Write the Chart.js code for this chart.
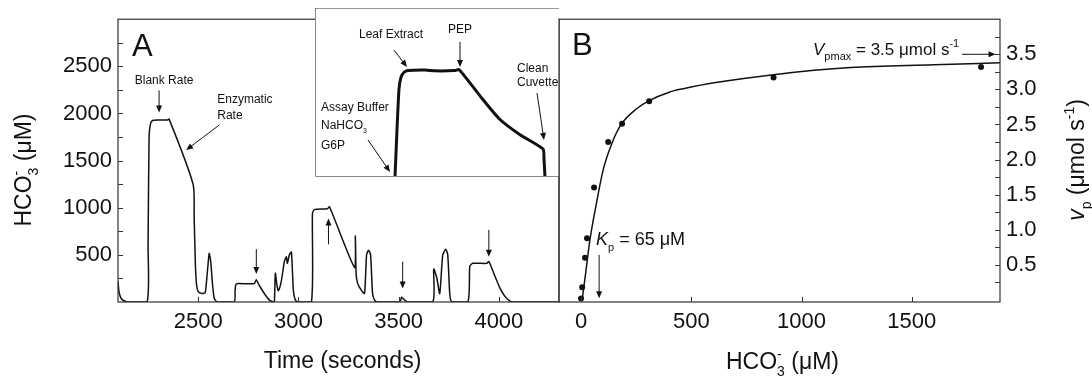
<!DOCTYPE html>
<html>
<head>
<meta charset="utf-8">
<script src="https://cdn.jsdelivr.net/npm/chart.js@4"></script>
<style>
  html, body { margin: 0; padding: 0; background: #fff; }
  #wrap { position: relative; width: 1092px; height: 381px; overflow: hidden; background: #fff; }
  #wrap canvas { position: absolute; top: 0; }
  #wrap #cA { left: 0; }
  #wrap #cIn { left: 315px; top: 8px; }
  #wrap #cB { left: 549px; }
</style>
</head>
<body>
<div id="wrap">
  <canvas id="cA" width="570" height="381"></canvas>
  <canvas id="cIn" width="244" height="169"></canvas>
  <canvas id="cB" width="543" height="381"></canvas>
</div>
<script>
// --- panel A: HCO3- concentration trace (uM) vs time (s)
const traceTime = [2100, 2105, 2115, 2135, 2155, 2245, 2250, 2255, 2262, 2272, 2300, 2345, 2355, 2475, 2480, 2486, 2492, 2500, 2520, 2535, 2545, 2555, 2563, 2570, 2580, 2595,
  2680, 2684, 2688, 2700, 2780, 2790, 2805, 2830, 2855, 2875, 2880, 2885, 2892, 2900, 2915, 2930, 2940, 2945, 2955, 2965, 2975, 2985, 3000,
  3065, 3070, 3080, 3145, 3155, 3280, 3284, 3288, 3295, 3315, 3330, 3340, 3350, 3360, 3370, 3380, 3395,
  3505, 3515, 3530, 3545, 3670, 3675, 3690, 3705, 3720, 3735, 3745, 3755, 3765,
  3845, 3855, 3870, 3940, 3950, 3980, 4005, 4030, 4055, 4070, 4300];
const traceConc = [220, 110, 40, 8, 0, 0, 600, 1750, 1890, 1925, 1930, 1930, 1940, 1245, 900, 400, 180, 110, 90, 100, 300, 515, 420, 225, 40, 0,
  0, 120, 185, 195, 195, 235, 175, 90, 20, 0, 0, 305, 190, 120, 225, 430, 480, 410, 500, 530, 120, 20, 0,
  0, 940, 980, 990, 1010, 367, 700, 300, 200, 120, 90, 500, 550, 500, 90, 20, 0,
  0, 50, 20, 0, 0, 350, 260, 90, 500, 560, 500, 90, 0,
  0, 380, 410, 410, 430, 275, 150, 60, 10, 0, 0];
const timeTicks = [2500, 3000, 3500, 4000];
const concTicks = [500, 1000, 1500, 2000, 2500];
const concMinor = [250, 750, 1250, 1750, 2250, 2750];

// --- inset: one assay run (relative units)
const insetTime = [80, 82, 84, 86, 89, 93, 110, 120, 140, 144, 165, 185, 205, 228, 229, 230];
const insetSignal = [0, 28, 52, 59, 62, 63, 63.3, 62.8, 63, 63.6, 48, 34, 25, 16.5, 10.6, 0];

// --- panel B: measured rates and fitted curve
const hco3Obs = [0, 5, 18, 27, 59, 123, 186, 309, 873, 1814];
const rateObs = [0.02, 0.18, 0.60, 0.88, 1.60, 2.25, 2.51, 2.83, 3.17, 3.32];
const hco3Fit = [5, 20, 40, 70, 100, 141, 182, 250, 309, 400, 464, 618, 873, 1223, 1600, 1900];
const rateFit = [0, 0.36, 0.85, 1.38, 1.85, 2.24, 2.50, 2.72, 2.84, 2.96, 3.01, 3.10, 3.21, 3.31, 3.35, 3.38];
const hco3Ticks = [0, 500, 1000, 1500];
const rateTicks = [0.5, 1.0, 1.5, 2.0, 2.5, 3.0, 3.5];
const rateMinor = [0.25, 0.75, 1.25, 1.75, 2.25, 2.75, 3.25, 3.75];

const FONT = '"Liberation Sans", Arial, sans-serif';
const INK = '#111';
const FRAME = '#333';
const TICK_FONT = { family: FONT, size: 22 };

function toXY(xs, ys) { return xs.map((x, i) => ({ x, y: ys[i] })); }

// draws text made of parts, some sub/superscript or italic
function richText(ctx, parts, x, y, size, opts = {}) {
  const laid = [];
  let cur = 0, lastStart = 0;
  parts.forEach(p => {
    const small = p.sub || p.sup;
    const fs = small ? Math.round(size * 0.62) : size;
    const font = (p.it ? 'italic ' : '') + fs + 'px ' + FONT;
    ctx.font = font;
    const w = ctx.measureText(p.t).width;
    const start = p.stack ? lastStart : cur;
    cur = Math.max(cur, start + w);
    lastStart = start;
    laid.push({ t: p.t, font, x: start, dy: p.sub ? size * 0.3 : p.sup ? -size * 0.45 : 0 });
  });
  const x0 = opts.align === 'left' ? 0 : -cur / 2;
  ctx.save();
  ctx.translate(x, y);
  if (opts.rot) ctx.rotate(opts.rot);
  ctx.fillStyle = INK;
  ctx.textBaseline = 'alphabetic';
  ctx.textAlign = 'left';
  laid.forEach(l => { ctx.font = l.font; ctx.fillText(l.t, x0 + l.x, l.dy); });
  ctx.restore();
}

function arrow(ctx, x1, y1, x2, y2) {
  const head = 7, half = 3;
  const a = Math.atan2(y2 - y1, x2 - x1);
  const c = Math.cos(a), s = Math.sin(a);
  ctx.beginPath();
  ctx.moveTo(x1, y1);
  ctx.lineTo(x2 - c * head * 0.8, y2 - s * head * 0.8);
  ctx.stroke();
  ctx.beginPath();
  ctx.moveTo(x2, y2);
  ctx.lineTo(x2 - c * head + s * half, y2 - s * head - c * half);
  ctx.lineTo(x2 - c * head - s * half, y2 - s * head + c * half);
  ctx.closePath();
  ctx.fill();
}

// frame + inward tick marks
function axisDecor(xTicks, yTicks, yRight) {
  return {
    id: 'axisDecor',
    afterDraw(chart) {
      const { ctx, chartArea: a, scales } = chart;
      ctx.save();
      ctx.strokeStyle = FRAME;
      ctx.lineWidth = 1.2;
      ctx.strokeRect(a.left, a.top, a.right - a.left, a.bottom - a.top);
      ctx.lineWidth = 1;
      ctx.beginPath();
      xTicks.forEach(v => {
        const px = Math.round(scales.x.getPixelForValue(v)) + 0.5;
        ctx.moveTo(px, a.bottom); ctx.lineTo(px, a.bottom - 5);
      });
      yTicks.forEach(v => {
        const py = Math.round(scales.y.getPixelForValue(v)) + 0.5;
        if (yRight) { ctx.moveTo(a.right, py); ctx.lineTo(a.right - 5, py); }
        else { ctx.moveTo(a.left, py); ctx.lineTo(a.left + 5, py); }
      });
      ctx.stroke();
      ctx.restore();
    }
  };
}

const notesA = {
  id: 'notesA',
  afterDraw(chart) {
    const { ctx, chartArea: a, scales: { x, y } } = chart;
    ctx.save();
    ctx.fillStyle = INK;
    ctx.strokeStyle = INK;
    ctx.lineWidth = 1;
    ctx.font = '31px ' + FONT;
    ctx.fillText('A', a.left + 14, a.top + 37);

    ctx.font = '12px ' + FONT;
    ctx.textBaseline = 'middle';
    ctx.textAlign = 'center';
    ctx.fillText('Blank Rate', x.getPixelForValue(2330), y.getPixelForValue(2346));
    ctx.textAlign = 'left';
    ctx.fillText('Enzymatic', x.getPixelForValue(2595), y.getPixelForValue(2142));
    ctx.fillText('Rate', x.getPixelForValue(2595), y.getPixelForValue(1979));

    const arrows = [
      [2305, 2244, 2305, 2010],
      [2605, 1877, 2440, 1612],
      [2790, 561, 2790, 296],
      [3150, 612, 3150, 887],
      [3520, 428, 3520, 143],
      [3950, 765, 3950, 480]
    ];
    arrows.forEach(([t1, v1, t2, v2]) => arrow(ctx, x.getPixelForValue(t1), y.getPixelForValue(v1), x.getPixelForValue(t2), y.getPixelForValue(v2)));

    richText(ctx, [{ t: 'Time (seconds)' }], (a.left + a.right) / 2 + 4, a.bottom + 66, 23);
    richText(ctx, [{ t: 'HCO' }, { t: '3', sub: true }, { t: '-', sup: true, stack: true }, { t: ' (μM)' }], 31, 170, 23, { rot: -Math.PI / 2 });
    ctx.restore();
  }
};

const insetDecor = {
  id: 'insetDecor',
  beforeDraw(chart) {
    const { ctx, width, height } = chart;
    ctx.save();
    ctx.fillStyle = '#fff';
    ctx.fillRect(0, 0, width, height);
    ctx.restore();
  },
  afterDraw(chart) {
    const { ctx, width, height, scales: { x, y } } = chart;
    ctx.save();
    ctx.lineWidth = 1;
    ctx.strokeStyle = '#8a8a8a';
    ctx.beginPath();
    ctx.moveTo(0.5, 0); ctx.lineTo(0.5, height - 0.5); ctx.lineTo(width, height - 0.5);
    ctx.stroke();
    ctx.strokeStyle = FRAME;
    ctx.lineWidth = 1.2;
    ctx.beginPath();
    ctx.moveTo(0, 0); ctx.lineTo(width, 0);
    ctx.stroke();

    ctx.fillStyle = INK;
    ctx.strokeStyle = INK;
    ctx.lineWidth = 1;
    ctx.font = '12px ' + FONT;
    ctx.textBaseline = 'middle';
    ctx.textAlign = 'center';
    ctx.fillText('Leaf Extract', x.getPixelForValue(76), y.getPixelForValue(84));
    ctx.fillText('PEP', x.getPixelForValue(145), y.getPixelForValue(87));
    ctx.textAlign = 'left';
    ctx.fillText('Clean', x.getPixelForValue(202), y.getPixelForValue(63.9));
    ctx.fillText('Cuvette', x.getPixelForValue(202), y.getPixelForValue(55.6));
    ctx.fillText('Assay Buffer', x.getPixelForValue(6), y.getPixelForValue(40.8));
    ctx.fillText('G6P', x.getPixelForValue(6), y.getPixelForValue(18.3));
    ctx.textBaseline = 'alphabetic';
    richText(ctx, [{ t: 'NaHCO' }, { t: '3', sub: true }], x.getPixelForValue(6), y.getPixelForValue(30.8) + 4, 12, { align: 'left' });

    const arrows = [
      [79, 75.1, 92, 65.1],
      [145, 79.9, 145, 65.1],
      [222, 49.7, 229, 21.9],
      [53, 21.9, 75, 3]
    ];
    arrows.forEach(([x1, y1, x2, y2]) => arrow(ctx, x.getPixelForValue(x1), y.getPixelForValue(y1), x.getPixelForValue(x2), y.getPixelForValue(y2)));
    ctx.restore();
  }
};

const notesB = {
  id: 'notesB',
  afterDraw(chart) {
    const { ctx, chartArea: a, scales: { x, y } } = chart;
    ctx.save();
    ctx.fillStyle = INK;
    ctx.strokeStyle = INK;
    ctx.lineWidth = 1;
    ctx.font = '31px ' + FONT;
    ctx.fillText('B', a.left + 13, a.top + 36);

    richText(ctx, [{ t: 'V', it: true }, { t: 'pmax', sub: true }, { t: ' = 3.5 μmol s' }, { t: '-1', sup: true }],
      x.getPixelForValue(1052), y.getPixelForValue(3.49), 17, { align: 'left' });
    arrow(ctx, x.getPixelForValue(1728), y.getPixelForValue(3.5), x.getPixelForValue(1880), y.getPixelForValue(3.5));

    richText(ctx, [{ t: 'K', it: true }, { t: 'p', sub: true }, { t: ' = 65 μM' }],
      x.getPixelForValue(68), y.getPixelForValue(0.78), 18, { align: 'left' });
    arrow(ctx, x.getPixelForValue(82), y.getPixelForValue(0.64), x.getPixelForValue(82), y.getPixelForValue(0.025));

    richText(ctx, [{ t: 'HCO' }, { t: '3', sub: true }, { t: '-', sup: true, stack: true }, { t: ' (μM)' }],
      (a.left + a.right) / 2 + 3, a.bottom + 67, 23);
    richText(ctx, [{ t: 'v', it: true }, { t: 'p', sub: true }, { t: ' (μmol s' }, { t: '-1', sup: true }, { t: ')' }],
      a.right + 84, 160, 23, { rot: -Math.PI / 2 });
    ctx.restore();
  }
};

const common = {
  responsive: false,
  animation: false,
  events: [],
  plugins: { legend: { display: false }, tooltip: { enabled: false } }
};

new Chart(document.getElementById('cA'), {
  type: 'line',
  data: {
    datasets: [{
      data: toXY(traceTime, traceConc),
      borderColor: INK,
      borderWidth: 1.5,
      pointRadius: 0,
      tension: 0.2,
      fill: false
    }]
  },
  options: {
    ...common,
    layout: { padding: { top: 8, right: 11, left: 0, bottom: 0 } },
    scales: {
      x: {
        type: 'linear', min: 2100, max: 4300,
        grid: { display: false, drawTicks: false }, border: { display: false },
        afterBuildTicks: s => { s.ticks = timeTicks.map(v => ({ value: v })); },
        afterFit: s => { s.height = 79; },
        ticks: { font: TICK_FONT, color: INK, padding: 7, maxRotation: 0, autoSkip: false, callback: v => String(v) }
      },
      y: {
        type: 'linear', min: 0, max: 3000,
        grid: { display: false, drawTicks: false }, border: { display: false },
        afterBuildTicks: s => { s.ticks = concTicks.map(v => ({ value: v })); },
        afterFit: s => { s.width = 118; },
        ticks: { font: TICK_FONT, color: INK, padding: 6, autoSkip: false, callback: v => String(v) }
      }
    }
  },
  plugins: [axisDecor(timeTicks, concTicks.concat(concMinor), false), notesA]
});

new Chart(document.getElementById('cIn'), {
  type: 'line',
  data: {
    datasets: [{
      data: toXY(insetTime, insetSignal),
      borderColor: INK,
      borderWidth: 3,
      pointRadius: 0,
      tension: 0.2,
      borderJoinStyle: 'round',
      fill: false
    }]
  },
  options: {
    ...common,
    layout: { padding: 0 },
    scales: {
      x: { type: 'linear', display: false, min: 0, max: 244 },
      y: { type: 'linear', display: false, min: 0, max: 100 }
    }
  },
  plugins: [insetDecor]
});

new Chart(document.getElementById('cB'), {
  type: 'line',
  data: {
    datasets: [
      {
        data: toXY(hco3Fit, rateFit),
        borderColor: INK,
        borderWidth: 1.5,
        pointRadius: 0,
        cubicInterpolationMode: 'monotone',
        fill: false
      },
      {
        data: toXY(hco3Obs, rateObs),
        showLine: false,
        pointRadius: 3,
        pointBackgroundColor: INK,
        pointBorderWidth: 0,
        clip: false
      }
    ]
  },
  options: {
    ...common,
    layout: { padding: { top: 8, right: 0, left: 10, bottom: 0 } },
    scales: {
      x: {
        type: 'linear', min: -100, max: 1900,
        grid: { display: false, drawTicks: false }, border: { display: false },
        afterBuildTicks: s => { s.ticks = hco3Ticks.map(v => ({ value: v })); },
        afterFit: s => { s.height = 79; },
        ticks: { font: TICK_FONT, color: INK, padding: 7, maxRotation: 0, autoSkip: false, callback: v => String(v) }
      },
      y: {
        type: 'linear', position: 'right', min: -0.03, max: 4.0,
        grid: { display: false, drawTicks: false }, border: { display: false },
        afterBuildTicks: s => { s.ticks = rateTicks.map(v => ({ value: v })); },
        afterFit: s => { s.width = 92; },
        ticks: { font: TICK_FONT, color: INK, padding: 6, autoSkip: false, callback: v => Number(v).toFixed(1) }
      }
    }
  },
  plugins: [axisDecor(hco3Ticks, rateTicks.concat(rateMinor), true), notesB]
});
</script>
</body>
</html>
